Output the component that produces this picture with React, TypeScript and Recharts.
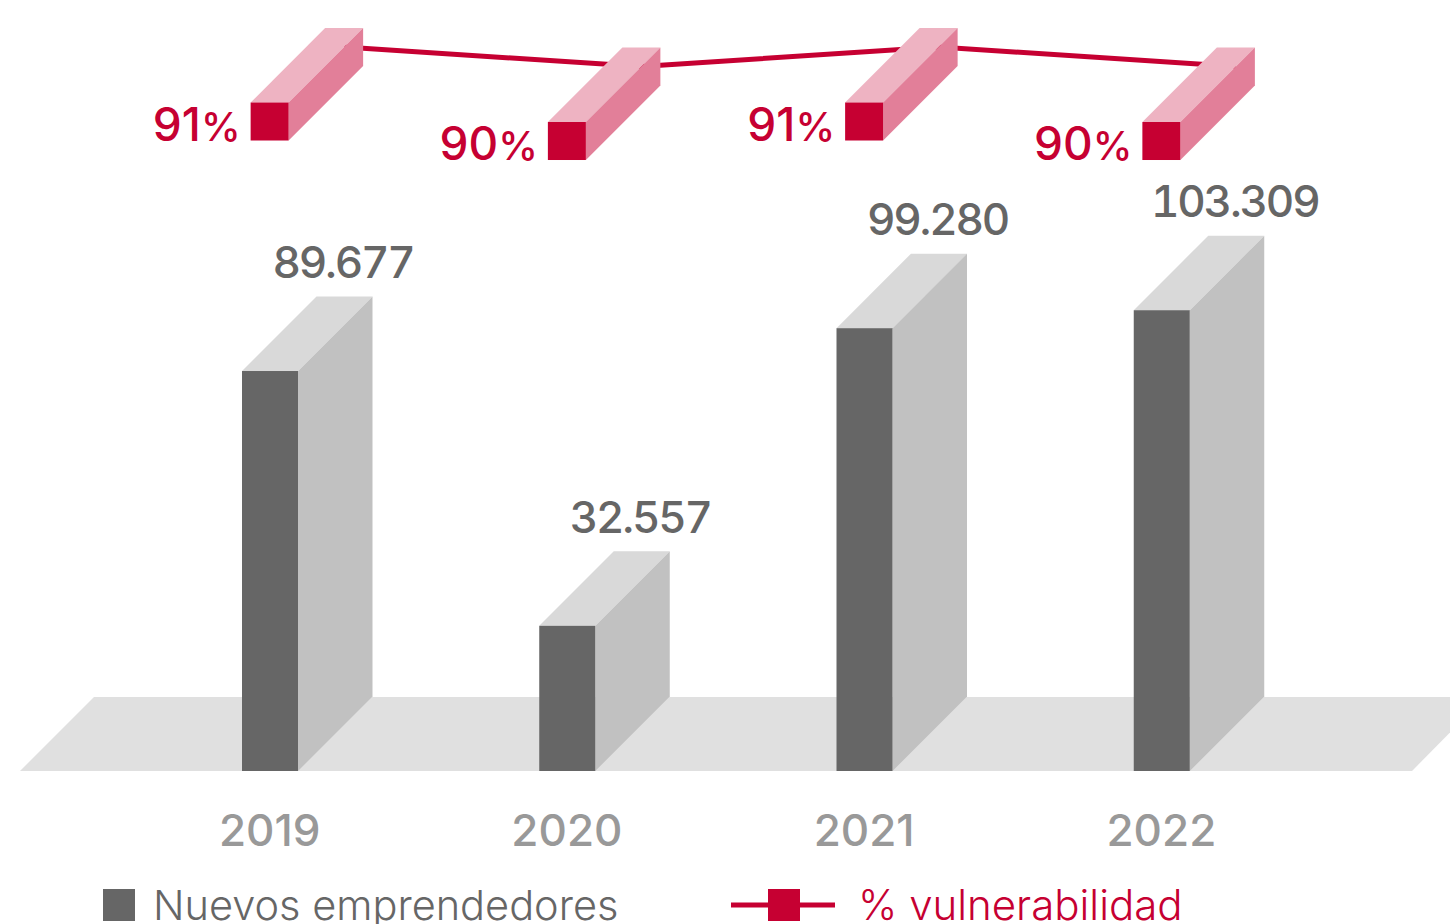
import { Bar, ComposedChart, LabelList, Legend, Line, ReferenceArea, XAxis, YAxis } from 'recharts';

const years = ['2019', '2020', '2021', '2022'];
const nuevosEmprendedores = [89677, 32557, 99280, 103309];
const vulnerabilidad = [91, 90, 91, 90];
const valueLabels = ['89.677', '32.557', '99.280', '103.309'];

const data = years.map((year, i) => ({
  year,
  nuevos: nuevosEmprendedores[i],
  vulnerabilidad: vulnerabilidad[i],
  valueLabel: valueLabels[i],
}));

const FONT = 'Inter, sans-serif';
const RED = '#c60032';
const DEPTH = 74.5;
const BOX = 38;

function Bar3D({ x, y, width, height }: any) {
  const right = x + width;
  const bottom = y + height;
  return (
    <g>
      <polygon points={`${x},${y} ${x + DEPTH},${y - DEPTH} ${right + DEPTH},${y - DEPTH} ${right},${y}`} fill="#d9d9d9" />
      <polygon points={`${right},${y} ${right + DEPTH},${y - DEPTH} ${right + DEPTH},${bottom - DEPTH} ${right},${bottom}`} fill="#c1c1c1" />
      <rect x={x} y={y} width={width} height={height} fill="#666666" />
    </g>
  );
}

// the line runs along the back of the boxes, so cx/cy is the back face centre
function Box3D({ cx, cy, index }: any) {
  const x = cx - DEPTH - BOX / 2;
  const y = cy + DEPTH - BOX / 2;
  const right = x + BOX;
  const bottom = y + BOX;
  return (
    <g key={index}>
      <polygon points={`${x},${y} ${x + DEPTH},${y - DEPTH} ${right + DEPTH},${y - DEPTH} ${right},${y}`} fill="#eeb3c2" />
      <polygon points={`${right},${y} ${right + DEPTH},${y - DEPTH} ${right + DEPTH},${bottom - DEPTH} ${right},${bottom}`} fill="#e27f99" />
      <rect x={x} y={y} width={BOX} height={BOX} fill={RED} />
    </g>
  );
}

function Floor({ x, y, width, height }: any) {
  const bottom = y + height;
  return (
    <polygon
      points={`${x - 101},${bottom} ${x - 27},${y} ${x + width + 175},${y} ${x + width + 102},${bottom}`}
      fill="#e0e0e0"
    />
  );
}

function ValueLabel({ x, y, width, index }: any) {
  return (
    <text
      x={x + width / 2 + 73}
      y={y - 93}
      textAnchor="middle"
      fontFamily={FONT}
      fontSize={44}
      fontWeight={500}
      letterSpacing={-2.2}
      fill="#666666"
      style={{ fontVariantNumeric: 'tabular-nums' }}
    >
      {valueLabels[index]}
    </text>
  );
}

function PercentLabel({ x, y, value }: any) {
  return (
    <text x={x - DEPTH - BOX / 2 - 10} y={y + DEPTH + BOX / 2} textAnchor="end" fontFamily={FONT} fontWeight={500} fill={RED}>
      <tspan fontSize={46}>{value}</tspan>
      <tspan fontSize={40}>%</tspan>
    </text>
  );
}

function ChartLegend({ payload }: any) {
  return (
    <div style={{ position: 'relative', height: 44, fontFamily: FONT, fontWeight: 300, lineHeight: '44px', whiteSpace: 'nowrap' }}>
      {(payload || []).map((entry: any) => {
        const isLine = entry.type === 'line';
        return (
          <div key={entry.value} style={{ position: 'absolute', left: isLine ? 731 : 103, top: 0, display: 'flex', color: isLine ? RED : '#666666', fontSize: isLine ? 42 : 41.5 }}>
            <svg width={isLine ? 104 : 32} height={44} style={{ marginRight: isLine ? 25 : 20 }}>
              {isLine && <line x1={0} x2={104} y1={17} y2={17} stroke={RED} strokeWidth={5} />}
              {isLine
                ? <rect x={37} y={1} width={32} height={32} fill={RED} />
                : <rect x={0} y={1} width={32} height={32} fill="#666666" />}
            </svg>
            <span style={{ marginTop: -5, marginLeft: -2 }}>{entry.value}</span>
          </div>
        );
      })}
    </div>
  );
}

export default function App() {
  return (
    <div style={{ position: 'absolute', left: 0, top: 0, width: 1450, height: 924, overflow: 'hidden', background: '#fff' }}>
      <ComposedChart width={1450} height={924} data={data} margin={{ top: 0, right: 140, bottom: 93, left: 121 }}>
        <XAxis
          dataKey="year"
          height={60}
          axisLine={false}
          tickLine={false}
          tickMargin={38}
          tick={{ fontFamily: FONT, fontSize: 44, fontWeight: 500, fill: '#999999' }}
          interval={0}
        />
        <XAxis dataKey="year" xAxisId="back" hide padding={{ left: 74.5, right: -74.5 }} />
        <YAxis yAxisId="left" hide domain={[0, 172860]} />
        <YAxis yAxisId="right" hide orientation="right" domain={[53.88, 93.41]} />
        <ReferenceArea yAxisId="left" y1={0} y2={16600} shape={<Floor />} ifOverflow="visible" />
        <Bar yAxisId="left" dataKey="nuevos" name="Nuevos emprendedores" barSize={56} fill="#666666" shape={<Bar3D />} isAnimationActive={false}>
          <LabelList dataKey="nuevos" content={<ValueLabel />} />
        </Bar>
        <Line
          yAxisId="right"
          xAxisId="back"
          dataKey="vulnerabilidad"
          name="% vulnerabilidad"
          stroke={RED}
          strokeWidth={5}
          dot={(props: any) => <Box3D key={props.index} {...props} />}
          activeDot={false}
          isAnimationActive={false}
        >
          <LabelList dataKey="vulnerabilidad" content={<PercentLabel />} />
        </Line>
        <Legend
          verticalAlign="middle"
          content={<ChartLegend />}
          wrapperStyle={{ position: 'absolute', left: 0, top: 888, width: 1450, height: 44 }}
        />
      </ComposedChart>
    </div>
  );
}
